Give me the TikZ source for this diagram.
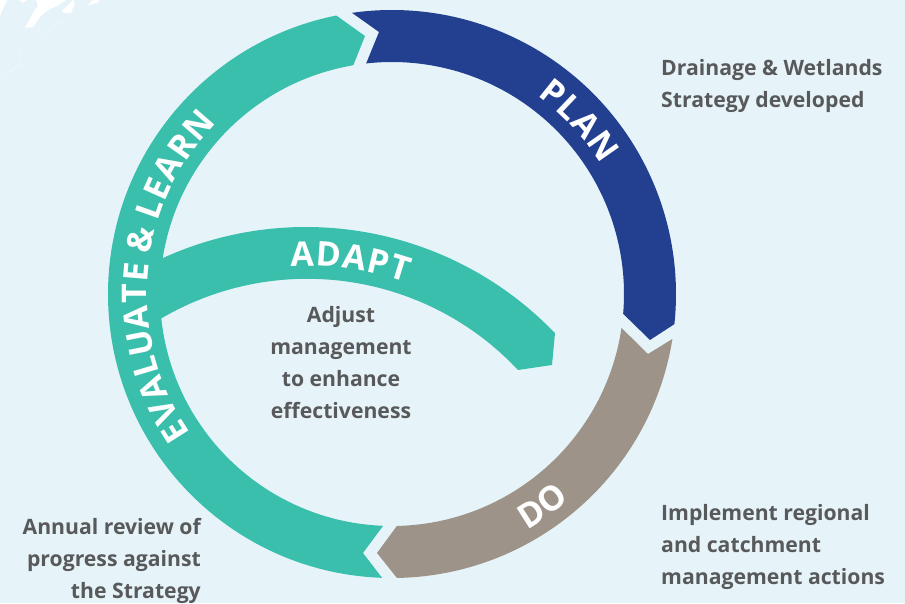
\documentclass[tikz,border=0pt]{standalone}
\usepackage{fontspec}
\setmainfont{Open Sans}
\usetikzlibrary{calc}
\definecolor{bgc}{HTML}{E6F4F9}
\definecolor{tealc}{HTML}{3BBFAD}
\definecolor{bluec}{HTML}{233F8F}
\definecolor{greyc}{HTML}{9D9389}
\definecolor{textc}{HTML}{58595B}
\tikzset{
  bodytext/.style={text=textc,font=\fontsize{21.2}{21.2}\selectfont\bfseries,inner sep=0pt},
  arcletter/.style={text=white,inner sep=0pt,anchor=base},
}
\newcommand{\arcsize}{34}
\newcommand{\arcf}{\fontsize{\arcsize}{\arcsize}\selectfont\bfseries}
\newcommand{\arcword}[7]{% name, centre, radius, mid angle, dir, tracking, letter/width list
  \gdef\arctotal{0}%
  \foreach \ch/\wid in {#7}{\pgfmathsetmacro\tt{\arctotal+\arcsize*\wid+#6}\xdef\arctotal{\tt}}%
  \pgfmathsetmacro\st{#4-(#5)*(\arctotal/2)/(#3)*57.2958}%
  \xdef\curang{\st}%
  \foreach \ch/\wid [count=\i] in {#7}{%
    \pgfmathsetmacro\w{\arcsize*\wid}%
    \pgfmathsetmacro\a{\curang+(#5)*(\w/2)/(#3)*57.2958}%
    \pgfmathsetmacro\rot{\a+(#5)*90}%
    \node[arcletter,rotate=\rot] (#1\i) at ($(#2)+(\a:#3)$) {\arcf\ch};
    \pgfmathsetmacro\nx{\curang+(#5)*(\w+#6)/(#3)*57.2958}%
    \xdef\curang{\nx}%
  }%
}
\begin{document}
\begin{tikzpicture}[x=1pt,y=1pt]
\useasboundingbox (0,0) rectangle (905,603);
\fill[bgc] (0,0) rectangle (905,603);
\coordinate (c) at (392,309);
\coordinate (a1) at (306,31);
% white map fragments
\fill[white] (0,587) -- (7,603) -- (0,603) -- cycle;
\fill[white] (19,603) -- (27,603) -- (23,600) -- cycle;
\fill[white] (36,603) -- (66,603) -- (57,597) -- (48,593) -- (40,586) -- (33,576) -- (25,575) -- (34,592) -- (38,597) -- cycle;
\fill[white] (62,592) -- (73,603) -- (75,600) -- (71,590) -- (64,590) -- cycle;
\fill[white] (88,598) -- (93,603) -- (100,603) -- (97,600) -- cycle;
\draw[white,opacity=.45,line width=.4pt] (63,584) -- (42,567) -- (41,561) -- (52,559) -- (61,570) -- cycle;
\draw[white,opacity=.45,line width=.4pt] (2,524) -- (20,540) -- (22,548) -- (17,556) -- (25,553) -- (36,547) -- (28,537) -- (15,535) -- cycle;
% adapt band
\fill[tealc] ($(a1)+(118:345)$) arc[start angle=118,end angle=43.8,radius=345]
  -- (552,238) -- (518,233)
  arc[start angle=43.2,end angle=124,radius=289] -- cycle;
% ring segments
\fill[bluec] ($(c)+(98.1:284)$) arc[start angle=98.1,end angle=-6.1,radius=284]
  -- (650,263) -- ($(c)+(-4.9:232)$) arc[start angle=-4.9,end angle=96.4,radius=232]
  -- (379,571) -- cycle;
\fill[greyc] ($(c)+(-9.1:284)$) arc[start angle=-9.1,end angle=-89,radius=284]
  -- (377,50) -- ($(c)+(-88.8:232)$) arc[start angle=-88.8,end angle=-8.4,radius=232]
  -- (648,249) -- cycle;
\fill[tealc] ($(c)+(-92:284)$) arc[start angle=268,end angle=101.3,radius=284]
  -- (365,567) -- ($(c)+(99.6:232)$) arc[start angle=99.6,end angle=267.8,radius=232]
  -- (363,50) -- cycle;
% curved labels
\arcword{ev}{c}{245}{175}{-1}{1}{E/.56,V/.65,A/.69,L/.57,U/.73,A/.69,T/.58,E/.56,{\ }/.22,{\&}/.73,{\ }/.22,L/.57,E/.56,A/.69,R/.66,N/.81}
\arcword{pl}{c}{246}{42.7}{-1}{1}{P/.63,L/.57,A/.69,N/.81}
\arcword{dd}{c}{272}{-54.7}{1}{0}{D/.74,O/.80}
\arcword{ad}{a1}{306}{81.8}{-1}{1}{A/.69,D/.74,A/.69,P/.63,T/.58}
% body texts
\node[bodytext,anchor=base west] (d1) at (661,527) {Drainage \& Wetlands};
\node[bodytext,anchor=base west] (d2) at (661,495) {Strategy developed};
\node[bodytext,anchor=base west] (i1) at (661,83) {Implement regional};
\node[bodytext,anchor=base west] (i2) at (661,51) {and catchment};
\node[bodytext,anchor=base west] (i3) at (661,19) {management actions};
\node[bodytext,anchor=base east] (r1) at (201,69) {Annual review of};
\node[bodytext,anchor=base east] (r2) at (201,37) {progress against};
\node[bodytext,anchor=base east] (r3) at (201,5) {the Strategy};
\node[bodytext,anchor=base] (m1) at (341,280) {Adjust};
\node[bodytext,anchor=base] (m2) at (341,248) {management};
\node[bodytext,anchor=base] (m3) at (341,216) {to enhance};
\node[bodytext,anchor=base] (m4) at (341,184) {effectiveness};
\end{tikzpicture}
\end{document}
